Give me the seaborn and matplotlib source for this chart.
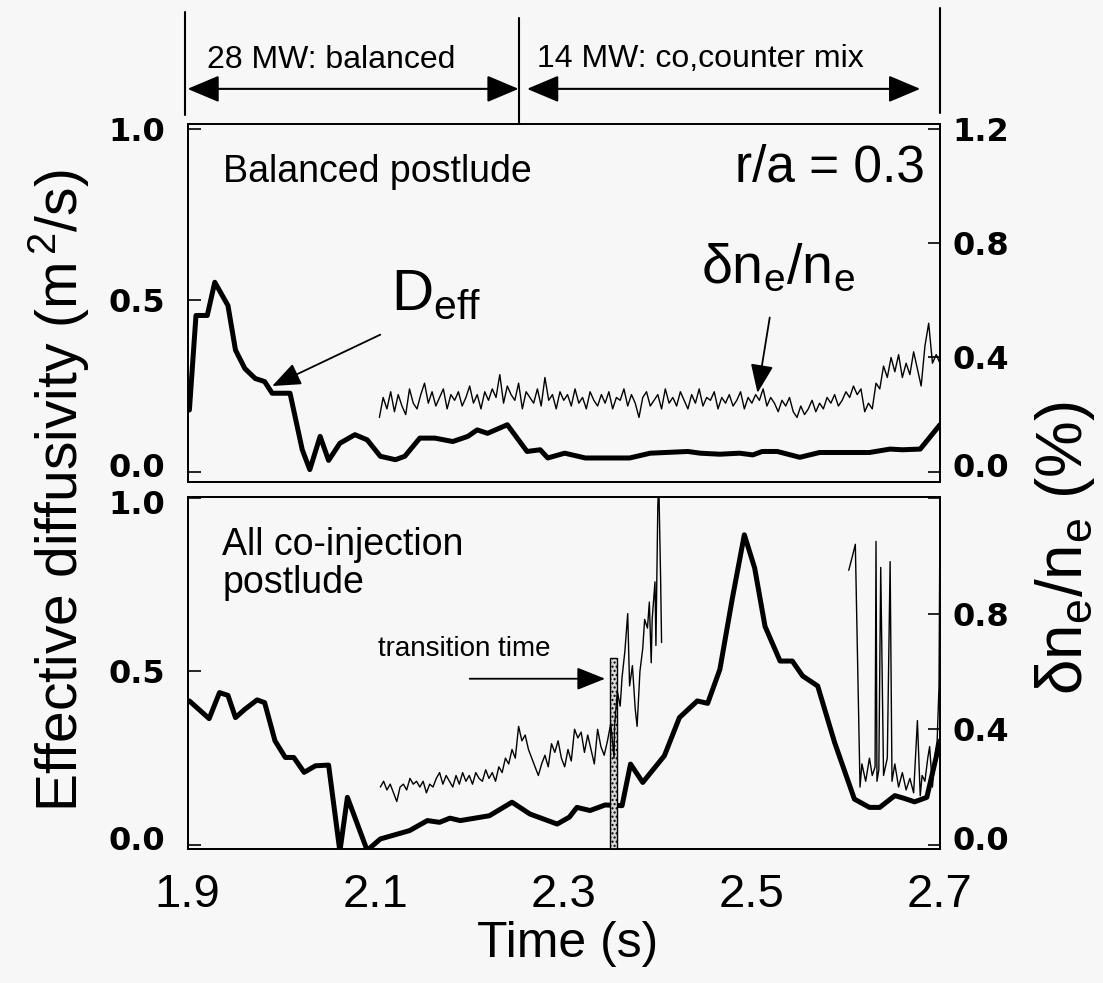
import numpy as np
import matplotlib
matplotlib.use("Agg")
import matplotlib.pyplot as plt
import seaborn as sns
from matplotlib.patches import Rectangle
from matplotlib.transforms import blended_transform_factory, ScaledTranslation

# ---------------- data ----------------
# top panel: balanced postlude, D_eff (m^2/s)
top_deff_t = [1.902, 1.909, 1.921, 1.929, 1.943, 1.951, 1.961, 1.972, 1.982, 1.990,
              2.009, 2.022, 2.030, 2.041, 2.050, 2.062, 2.078, 2.091, 2.105, 2.121,
              2.131, 2.147, 2.163, 2.182, 2.198, 2.208, 2.219, 2.240, 2.261, 2.275,
              2.283, 2.301, 2.323, 2.344, 2.370, 2.392, 2.432, 2.445, 2.466, 2.487,
              2.501, 2.511, 2.527, 2.551, 2.572, 2.625, 2.647, 2.660, 2.679, 2.687, 2.700]
top_deff = [0.18, 0.456, 0.456, 0.553, 0.485, 0.355, 0.301, 0.272, 0.263, 0.229,
            0.229, 0.064, 0.006, 0.103, 0.033, 0.083, 0.108, 0.093, 0.045, 0.035,
            0.045, 0.098, 0.098, 0.088, 0.103, 0.122, 0.112, 0.137, 0.059, 0.064,
            0.040, 0.054, 0.040, 0.040, 0.040, 0.054, 0.059, 0.054, 0.051, 0.054,
            0.049, 0.059, 0.059, 0.042, 0.056, 0.056, 0.066, 0.064, 0.066, 0.093, 0.137]

# top panel: density fluctuation dn/n (%), uniform sampling
top_dn_start, top_dn_step = 2.104, 0.004
top_dn = [0.19, 0.26, 0.22, 0.28, 0.21, 0.27, 0.23, 0.20, 0.29, 0.24,
          0.22, 0.27, 0.31, 0.24, 0.28, 0.23, 0.26, 0.29, 0.22, 0.27,
          0.25, 0.28, 0.23, 0.26, 0.30, 0.24, 0.27, 0.22, 0.28, 0.25,
          0.29, 0.26, 0.34, 0.24, 0.30, 0.27, 0.25, 0.31, 0.22, 0.28,
          0.26, 0.24, 0.29, 0.23, 0.33, 0.25, 0.27, 0.22, 0.28, 0.25,
          0.27, 0.23, 0.29, 0.24, 0.26, 0.22, 0.28, 0.25, 0.23, 0.27,
          0.24, 0.28, 0.22, 0.26, 0.25, 0.29, 0.23, 0.27, 0.24, 0.19,
          0.26, 0.28, 0.23, 0.25, 0.27, 0.22, 0.29, 0.24, 0.26, 0.23,
          0.28, 0.25, 0.22, 0.27, 0.24, 0.29, 0.23, 0.26, 0.25, 0.28,
          0.22, 0.26, 0.24, 0.27, 0.23, 0.25, 0.28, 0.22, 0.26, 0.24,
          0.27, 0.25, 0.29, 0.23, 0.26, 0.24, 0.21, 0.25, 0.23, 0.26,
          0.21, 0.19, 0.23, 0.20, 0.22, 0.25, 0.21, 0.24, 0.22, 0.26,
          0.24, 0.27, 0.23, 0.25, 0.28, 0.26, 0.30, 0.27, 0.29, 0.21,
          0.24, 0.22, 0.31, 0.29, 0.37, 0.33, 0.40, 0.35, 0.41, 0.33,
          0.38, 0.34, 0.42, 0.36, 0.30, 0.44, 0.52, 0.38, 0.41, 0.38]

# bottom panel: all co-injection postlude, D_eff (m^2/s)
bot_deff_t = [1.902, 1.923, 1.934, 1.943, 1.951, 1.961, 1.974, 1.982, 1.993, 2.004,
              2.013, 2.024, 2.036, 2.050, 2.062, 2.070, 2.091, 2.105, 2.136, 2.155,
              2.168, 2.179, 2.190, 2.221, 2.245, 2.264, 2.293, 2.306, 2.314, 2.328,
              2.344, 2.362, 2.371, 2.384, 2.407, 2.423, 2.442, 2.453, 2.466, 2.479,
              2.492, 2.503, 2.514, 2.530, 2.543, 2.554, 2.570, 2.588, 2.609, 2.625,
              2.636, 2.652, 2.662, 2.673, 2.686, 2.700]
bot_deff = [0.415, 0.364, 0.439, 0.431, 0.367, 0.391, 0.418, 0.410, 0.300, 0.252,
            0.252, 0.209, 0.228, 0.230, -0.019, 0.137, -0.016, 0.017, 0.041, 0.070,
            0.065, 0.077, 0.070, 0.084, 0.123, 0.089, 0.060, 0.080, 0.108, 0.099,
            0.115, 0.113, 0.233, 0.180, 0.257, 0.367, 0.415, 0.408, 0.506, 0.707,
            0.894, 0.798, 0.630, 0.530, 0.530, 0.487, 0.458, 0.295, 0.132, 0.108,
            0.108, 0.142, 0.134, 0.124, 0.137, 0.300]

# bottom panel dn/n, first segment before transition (uniform sampling)
bot_dn1_start, bot_dn1_step = 2.105, 0.0035
bot_dn1 = [0.20, 0.22, 0.19, 0.21, 0.18, 0.15, 0.20, 0.21, 0.19, 0.23,
           0.21, 0.22, 0.20, 0.22, 0.18, 0.21, 0.20, 0.23, 0.25, 0.21,
           0.24, 0.22, 0.20, 0.24, 0.21, 0.25, 0.22, 0.24, 0.21, 0.25,
           0.23, 0.22, 0.26, 0.23, 0.25, 0.22, 0.27, 0.25, 0.30, 0.28,
           0.33, 0.30, 0.41, 0.36, 0.38, 0.33, 0.30, 0.27, 0.24, 0.28,
           0.31, 0.27, 0.35, 0.32, 0.36, 0.30, 0.27, 0.33, 0.29, 0.40,
           0.37, 0.39, 0.32, 0.38, 0.33, 0.28, 0.40, 0.34, 0.31, 0.36,
           0.42, 0.30]
# first segment after transition
bot_dn1b_t = [2.354, 2.357, 2.360, 2.362, 2.365, 2.368, 2.370, 2.373, 2.376, 2.378,
              2.381, 2.384, 2.386, 2.389, 2.391, 2.393, 2.394, 2.397, 2.398, 2.400,
              2.401, 2.403, 2.404]
bot_dn1b = [0.41, 0.53, 0.48, 0.58, 0.67, 0.80, 0.55, 0.62, 0.47, 0.41,
            0.60, 0.68, 0.78, 0.75, 0.84, 0.63, 0.78, 0.91, 0.69, 1.17,
            1.26, 0.92, 0.70]
# second segment
bot_dn2_t = [2.603, 2.607, 2.610, 2.615, 2.617, 2.621, 2.625, 2.628, 2.631, 2.632,
             2.633, 2.635, 2.637, 2.640, 2.644, 2.647, 2.649, 2.652, 2.656, 2.660,
             2.664, 2.668, 2.672, 2.676, 2.679, 2.681, 2.684, 2.687, 2.689, 2.692,
             2.695, 2.697, 2.699, 2.700]
bot_dn2 = [0.95, 1.00, 1.04, 0.20, 0.28, 0.22, 0.30, 0.24, 0.27, 1.05,
           0.22, 0.26, 0.96, 0.24, 0.30, 0.98, 0.22, 0.28, 0.20, 0.25,
           0.19, 0.23, 0.18, 0.43, 0.17, 0.24, 0.22, 0.30, 0.34, 0.20,
           0.32, 0.36, 0.55, 1.15]

transition_t = 2.353
phase_edges = [1.9, 2.252, 2.7]
phase_labels = ["28 MW: balanced", "14 MW: co,counter mix"]
x_ticks = [1.9, 2.0, 2.1, 2.2, 2.3, 2.4, 2.5, 2.6, 2.7]
x_ticklabels = ["1.9", "", "2.1", "", "2.3", "", "2.5", "", "2.7"]

# ---------------- style ----------------
sns.set_style("white")
BG = "#f7f7f7"
plt.rcParams["font.family"] = ["Liberation Sans", "DejaVu Sans"]
plt.rcParams["mathtext.fontset"] = "custom"
plt.rcParams["mathtext.rm"] = "Liberation Sans"
plt.rcParams["mathtext.it"] = "Liberation Sans:italic"
plt.rcParams["mathtext.bf"] = "Liberation Sans:bold"
plt.rcParams["axes.edgecolor"] = "black"
plt.rcParams["axes.linewidth"] = 1.3
plt.rcParams["text.color"] = "black"
plt.rcParams["xtick.color"] = "black"
plt.rcParams["ytick.color"] = "black"
plt.rcParams["axes.labelcolor"] = "black"

fig = plt.figure(figsize=(11.03, 9.83), dpi=100, facecolor=BG)
ax1 = fig.add_axes([0.170, 0.5097, 0.6822, 0.3642], facecolor=BG)
ax2 = fig.add_axes([0.170, 0.1363, 0.6822, 0.3581], facecolor=BG)

top_lim = (-0.03, 1.015)
bot_lim = (-0.012, 1.003)

top_dn_t = top_dn_start + top_dn_step * np.arange(len(top_dn))
bot_dn1_t = bot_dn1_start + bot_dn1_step * np.arange(len(bot_dn1))
bot_dnA_t = np.concatenate([bot_dn1_t, bot_dn1b_t])
bot_dnA = np.concatenate([bot_dn1, bot_dn1b])

tick_font = dict(fontsize=23, fontweight="bold", family="DejaVu Sans", color="black")

axes_r = []
for ax, lim in ((ax1, top_lim), (ax2, bot_lim)):
    ax.set_xlim(1.9, 2.7)
    ax.set_ylim(*lim)
    ax.set_xticks(x_ticks)
    ax.set_yticks([0, 0.5, 1.0])
    ax.set_yticklabels(["0.0", "0.5", "1.0"], **tick_font)
    ax.tick_params(axis="both", direction="in", length=9, width=1.2, color="black")
    ax.tick_params(axis="y", pad=16)
    for s in ax.spines.values():
        s.set_visible(True)
        s.set_color("black")
        s.set_linewidth(1.3)
    ar = ax.twinx()
    ar.set_ylim(lim[0] * 1.2, lim[1] * 1.2)
    ar.set_yticks([0, 0.4, 0.8, 1.2])
    ar.tick_params(axis="y", direction="in", length=9, width=1.2, pad=9, color="black")
    for s in ar.spines.values():
        s.set_color("black")
        s.set_linewidth(1.3)
    axes_r.append(ar)

ar1, ar2 = axes_r
ar1.set_yticklabels(["0.0", "0.4", "0.8", "1.2"], **tick_font)
ar2.set_yticklabels(["0.0", "0.4", "0.8", ""], **tick_font)

# nudge the crowded labels at the panel junction as in the reference
up = ScaledTranslation(0, 5 / 72, fig.dpi_scale_trans)
down = ScaledTranslation(0, -3 / 72, fig.dpi_scale_trans)
for a in (ax1, ar1, ax2, ar2):
    labs = a.get_yticklabels()
    labs[0].set_transform(labs[0].get_transform() + up)
lab_b = ax2.get_yticklabels()[-1]
lab_b.set_transform(lab_b.get_transform() + down)

ax1.tick_params(axis="x", labelbottom=False)
ax2.set_xticklabels(x_ticklabels, fontsize=34, color="black")
ax2.tick_params(axis="x", pad=17)

# ---------------- curves ----------------
sns.lineplot(x=top_deff_t, y=top_deff, ax=ax1, color="black", linewidth=3.6,
             estimator=None, sort=False)
sns.lineplot(x=top_dn_t, y=top_dn, ax=ar1, color="black", linewidth=1.0,
             estimator=None, sort=False)
sns.lineplot(x=bot_deff_t, y=bot_deff, ax=ax2, color="black", linewidth=3.6,
             estimator=None, sort=False)
sns.lineplot(x=bot_dnA_t, y=bot_dnA, ax=ar2, color="black", linewidth=1.0,
             estimator=None, sort=False)
sns.lineplot(x=bot_dn2_t, y=bot_dn2, ax=ar2, color="black", linewidth=1.0,
             estimator=None, sort=False)
for a in (ax1, ax2, ar1, ar2):
    a.set_xlabel("")
    a.set_ylabel("")
    if a.get_legend():
        a.get_legend().remove()

# transition bar
ax2.add_patch(Rectangle((transition_t - 0.004, bot_lim[0]), 0.008, 0.54 - bot_lim[0],
                        facecolor="#d9d9d9", edgecolor="black", hatch="....",
                        linewidth=1.0, zorder=4))

# ---------------- annotations ----------------
ax1.text(0.0476, 0.838, "Balanced postlude", transform=ax1.transAxes, fontsize=27,
         va="baseline", ha="left")
ax1.text(0.98, 0.838, "r/a = 0.3", transform=ax1.transAxes, fontsize=37,
         va="baseline", ha="right")
ax1.text(0.270, 0.48, r"D$_\mathrm{eff}$", transform=ax1.transAxes, fontsize=42,
         va="baseline", ha="left")
ax1.text(0.682, 0.556, r"δn$_\mathrm{e}$/n$_\mathrm{e}$", transform=ax1.transAxes,
         fontsize=40, va="baseline", ha="left")
arrow_kw = dict(arrowstyle="-|>,head_length=0.8,head_width=0.32", color="black",
                lw=1.3, mutation_scale=22, shrinkA=0, shrinkB=0)
ax1.annotate("", xy=(1.99, 0.25), xytext=(2.105, 0.40), arrowprops=arrow_kw)
ax1.annotate("", xy=(2.506, 0.23), xytext=(2.519, 0.45), arrowprops=arrow_kw)

ax2.text(0.0465, 0.835, "All co-injection", transform=ax2.transAxes, fontsize=27,
         va="baseline", ha="left")
ax2.text(0.0465, 0.728, "postlude", transform=ax2.transAxes, fontsize=27,
         va="baseline", ha="left")
ax2.text(2.102, 0.545, "transition time", fontsize=20, va="baseline", ha="left")
ax2.annotate("", xy=(2.344, 0.479), xytext=(2.200, 0.479), arrowprops=arrow_kw)

# phase markers above top panel
tr = blended_transform_factory(ax1.transData, ax1.transAxes)
ax1.plot([1.897, 1.897], [1.025, 1.313], color="black", lw=1.5, transform=tr, clip_on=False)
ax1.plot([phase_edges[1], phase_edges[1]], [1.0, 1.296], color="black", lw=1.5,
         transform=tr, clip_on=False)
ax1.plot([2.7, 2.7], [1.031, 1.324], color="black", lw=1.5, transform=tr, clip_on=False)
dbl = dict(arrowstyle="<|-|>,head_length=0.9,head_width=0.38", color="black", lw=1.5,
           mutation_scale=22, shrinkA=0, shrinkB=0)
ax1.annotate("", xy=(phase_edges[0], 1.098), xytext=(phase_edges[1], 1.098),
             xycoords=tr, textcoords=tr, arrowprops=dbl, annotation_clip=False)
ax1.annotate("", xy=(phase_edges[1] + 0.009, 1.098), xytext=(2.679, 1.098),
             xycoords=tr, textcoords=tr, arrowprops=dbl, annotation_clip=False)
ax1.text(1.921, 1.156, phase_labels[0], transform=tr, fontsize=23, va="baseline",
         ha="left", clip_on=False)
ax1.text(2.272, 1.160, phase_labels[1], transform=tr, fontsize=23, va="baseline",
         ha="left", clip_on=False)

# axis labels
fig.text(0.054, 0.5005, r"Effective diffusivity (m$^{\,\mathrm{2}}$/s)", rotation=90,
         ha="center", va="center", fontsize=41)
fig.text(0.966, 0.4425, r"δn$_\mathrm{e}$/n$_\mathrm{e}$ (%)", rotation=90,
         ha="center", va="center", fontsize=46)
fig.text(0.515, 0.040, "Time (s)", ha="center", va="center", fontsize=36)

fig.savefig("out.png", dpi=100, facecolor=BG)
